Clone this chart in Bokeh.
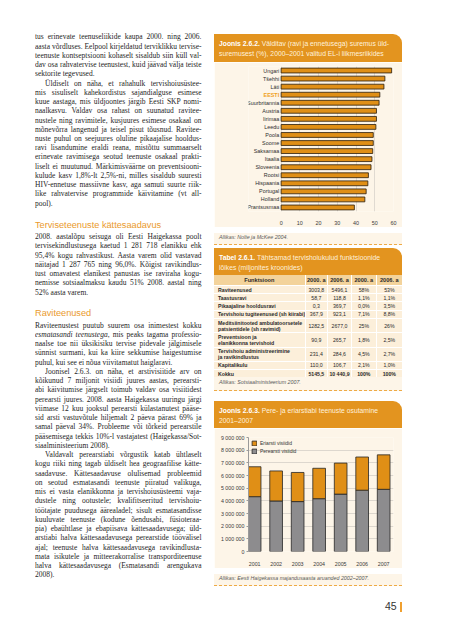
from bokeh.plotting import figure
from bokeh.models import (ColumnDataSource, Div, Spacer, FactorRange, Range1d,
                          FixedTicker, Legend, LegendItem)
from bokeh.layouts import row, column
from bokeh.core.properties import value
from bokeh.embed import file_html
from bokeh.resources import INLINE

# ---------------- data ----------------
countries = ["Ungari", "Tšehhi", "Läti", "EESTI", "Suurbritannia", "Austria", "Iirimaa", "Leedu",
             "Poola", "Soome", "Saksamaa", "Itaalia", "Sloveenia", "Rootsi", "Hispaania",
             "Portugal", "Holland", "Prantsusmaa"]
mortality = [59.0, 55.4, 54.9, 52.7, 52.3, 50.9, 50.9, 50.6, 49.2, 49.2, 48.9, 48.5, 48.0,
             46.6, 46.3, 45.4, 44.7, 39.1]
mortality_ticks = [0, 10, 20, 30, 40, 50, 60]

years = [2001, 2002, 2003, 2004, 2005, 2006, 2007]
pere_visits = [4330000, 3990000, 3940000, 4170000, 4530000, 4840000, 4910000]
eri_visits = [2360000, 2370000, 2300000, 2400000, 2450000, 2620000, 2720000]
visit_ticks = [0, 1000000, 2000000, 3000000, 4000000, 5000000, 6000000, 7000000, 8000000, 9000000]

table_header = ["Funktsioon", "2000. a", "2006. a", "2000. a", "2006. a"]
table_functions = ["Raviteenused", "Taastusravi", "Pikaajaline hooldusravi",
                   "Tervishoiu tugiteenused (sh kiirabi)",
                   "Meditsiinitooted ambulatoorsetele<br>patsientidele (sh ravimid)",
                   "Preventsioon ja<br>elanikkonna tervishoid",
                   "Tervishoiu administreerimine<br>ja ravikindlustus",
                   "Kapitalikulu", "Kokku"]
table_2000 = ["3003,8", "58,7", "0,3", "367,9", "1282,5", "90,9", "231,4", "110,0", "5145,5"]
table_2006 = ["5496,1", "118,8", "369,7", "923,1", "2677,0", "265,7", "284,6", "106,7", "10 440,9"]
table_share_2000 = ["58%", "1,1%", "0,0%", "7,1%", "25%", "1,8%", "4,5%", "2,1%", "100%"]
table_share_2006 = ["53%", "1,1%", "3,5%", "8,8%", "26%", "2,5%", "2,7%", "1,0%", "100%"]

para_a = [  # (text, indent, last)
    ("tus erinevate teenuseliikide kaupa 2000. ning 2006.", False, False),
    ("aasta võrdluses. Eelpool kirjeldatud terviklikku tervise-", False, False),
    ("teenuste kontseptsiooni kohaselt sisaldub siin küll val-", False, False),
    ("dav osa rahvatervise teenustest, kuid jäävad välja teiste", False, False),
    ("sektorite tegevused.", False, True),
    ("Üldiselt on näha, et rahahulk tervishoiusüstee-", True, False),
    ("mis sisuliselt kahekordistus sajandialguse esimese", False, False),
    ("kuue aastaga, mis üldjoontes järgib Eesti SKP nomi-", False, False),
    ("naalkasvu. Valdav osa rahast on suunatud ravitee-", False, False),
    ("nustele ning ravimitele, kusjuures esimese osakaal on", False, False),
    ("mõnevõrra langenud ja teisel pisut tõusnud. Ravitee-", False, False),
    ("nuste puhul on seejuures oluline pikaajalise hooldus-", False, False),
    ("ravi lisandumine eraldi reana, mistõttu summaarselt", False, False),
    ("erinevate ravimisega seotud teenuste osakaal prakti-", False, False),
    ("liselt ei muutunud. Märkimisväärne on preventsiooni-", False, False),
    ("kulude kasv 1,8%-lt 2,5%-ni, milles sisaldub suuresti", False, False),
    ("HIV-ennetuse massiivne kasv, aga samuti suurte riik-", False, False),
    ("like rahvatervise programmide käivitamine (vt all-", False, False),
    ("pool).", False, True),
]
heading_b = "Terviseteenuste kättesaadavus"
para_b = [
    ("2008. aastalõpu seisuga oli Eesti Haigekassa poolt", False, False),
    ("tervisekindlustusega kaetud 1 281 718 elanikku ehk", False, False),
    ("95,4% kogu rahvastikust. Aasta varem olid vastavad", False, False),
    ("näitajad 1 287 765 ning 96,0%. Kõigist ravikindlus-", False, False),
    ("tust omavatest elanikest panustas ise raviraha kogu-", False, False),
    ("nemisse sotsiaalmaksu kaudu 51% 2008. aastal ning", False, False),
    ("52% aasta varem.", False, True),
]
heading_c = "Raviteenused"
para_c = [
    ("Raviteenustest puutub suurem osa inimestest kokku", False, False),
    ("<i>esmatasandi teenustega</i>, mis peaks tagama professio-", False, False),
    ("naalse toe nii üksikisiku tervise pidevale jälgimisele", False, False),
    ("sünnist surmani, kui ka kiire sekkumise haigestumise", False, False),
    ("puhul, kui see ei nõua viivitamatut haiglaravi.", False, True),
    ("Joonisel 2.6.3. on näha, et arstivisiitide arv on", True, False),
    ("kõikunud 7 miljonit visiidi juures aastas, perearsti-", False, False),
    ("abi käivitumise järgselt toimub valdav osa visiitidest", False, False),
    ("perearsti juures. 2008. aasta Haigekassa uuringu järgi", False, False),
    ("viimase 12 kuu jooksul perearsti külastanutest pääse-", False, False),
    ("sid arsti vastuvõtule hiljemalt 2 päeva pärast 69% ja", False, False),
    ("samal päeval 34%. Probleeme või tõrkeid perearstile", False, False),
    ("pääsemisega tekkis 10%-l vastajatest (Haigekassa/Sot-", False, False),
    ("siaalministeerium 2008).", False, True),
    ("Valdavalt perearstiabi võrgustik katab ühtlaselt", True, False),
    ("kogu riiki ning tagab üldiselt hea geograafilise kätte-", False, False),
    ("saadavuse. Kättesaadavuse olulisemad probleemid", False, False),
    ("on seotud esmatasandi teenuste piiratud valikuga,", False, False),
    ("mis ei vasta elanikkonna ja tervishoiusüsteemi vaja-", False, False),
    ("dustele ning ootustele; kvalifitseeritud tervishoiu-", False, False),
    ("töötajate puudusega äärealadel; sisult esmatasandisse", False, False),
    ("kuuluvate teenuste (kodune õendusabi, füsioteraa-", False, False),
    ("pia) ebaühtlase ja ebapiisava kättesaadavusega; üld-", False, False),
    ("arstiabi halva kättesaadavusega perearstide töövälisel", False, False),
    ("ajal; teenuste halva kättesaadavusega ravikindlusta-", False, False),
    ("mata isikutele ja mitteerakorralise transporditeenuse", False, False),
    ("halva kättesaadavusega (Esmatasandi arengukava", False, False),
    ("2008).", False, True),
]

# ---------------- styles ----------------
BAND = "#e3941f"
BAR_OR = "#e08f16"
GRAY = "#8d8c8e"
CREAM = "#fdf5e8"
HEAD = "#f3d39b"
ROWBG = "#fcefda"
SANS = "'Liberation Sans', Arial, sans-serif"
SERIF = "'Liberation Serif', 'DejaVu Serif', serif"
RW = 188  # right column width

# ---------------- left text column ----------------
LH = 9.25
parts = []


def add_lines(lines, y0):
    for i, (t, ind, last) in enumerate(lines):
        yc = y0 + i * LH
        left = 35 + (10 if ind else 0)
        w = 166.5 - (10 if ind else 0)
        al = "left" if last else "justify"
        ws = "normal" if last else "-0.6px"
        parts.append(
            f'<div style="position:absolute;left:{left}px;top:{yc - 8 - 4.8:.1f}px;width:{w}px;'
            f'height:9.6px;line-height:9.6px;overflow:hidden;text-align:{al};text-align-last:{al};'
            f'word-spacing:{ws};white-space:normal">{t}</div>')


def add_heading(t, yc):
    parts.append(
        f'<div style="position:absolute;left:35px;top:{yc - 8 - 6:.1f}px;height:12px;line-height:12px;'
        f'font-family:{SANS};font-size:9.2px;color:#ea9a2d;white-space:nowrap">{t}</div>')


add_lines(para_a, 45)
add_heading(heading_b, 233.3)
add_lines(para_b, 245)
add_heading(heading_c, 321)
add_lines(para_c, 333.3)

left_div = Div(text=f'<div style="position:relative;width:214px;height:624px;font-family:{SERIF};'
                    f'font-size:7.5px;color:#262626">{"".join(parts)}</div>',
               width=214, height=624, margin=(0, 0, 0, 0))


def band(label, line1, line2, h):
    html = (f'<div style="box-sizing:border-box;width:{RW}px;height:{h}px;background:{BAND};'
            f'border-top-right-radius:9px;padding:5px 3px 0 5px;font-family:{SANS};font-size:6.8px;'
            f'line-height:9.5px;color:#fff1dc;white-space:nowrap;overflow:hidden">'
            f'<b style="color:#ffffff">{label}</b> {line1}<br>{line2}</div>')
    return Div(text=html, width=RW, height=h, margin=(0, 0, 0, 0))


def source_div(text, h):
    html = (f'<div style="box-sizing:border-box;width:{RW}px;height:{h}px;background:{CREAM};'
            f'border-bottom:1px dashed #eeaa45;padding:0 0 0 5px;font-family:{SANS};font-size:5.3px;'
            f'line-height:8px;font-style:italic;color:#5a5a5a;white-space:nowrap">{text}</div>')
    return Div(text=html, width=RW, height=h, margin=(0, 0, 0, 0))


# ---------------- figure 1 ----------------
# frame spans the whole panel width; the part left of 0 holds the country labels
p1 = figure(width=RW, height=165, x_range=Range1d(-17.43, 60), y_range=FactorRange(factors=countries[::-1]),
            output_backend="svg", toolbar_location=None,
            min_border_left=0, min_border_right=9, min_border_top=4, min_border_bottom=11,
            background_fill_color=CREAM, border_fill_color=CREAM, outline_line_color=None)
src1 = ColumnDataSource(dict(
    country=countries, value=mortality, zero=[0] * len(countries),
    color=["#f0a020" if c == "EESTI" else "#2e2e2e" for c in countries],
    style=["bold" if c == "EESTI" else "normal" for c in countries]))
p1.hbar(y="country", left=0, right="value", height=0.6, source=src1,
        fill_color=BAR_OR, line_color="#2a1d0c", line_width=0.8)
p1.text(x="zero", y="country", text="country", source=src1, x_offset=-2,
        text_align="right", text_baseline="middle", text_font_size=value("5.4px"),
        text_color="color", text_font_style="style", text_font=value("Liberation Sans"))
p1.yaxis.visible = False
p1.ygrid.grid_line_color = None
p1.xgrid.grid_line_color = "#d8d3ca"
p1.xgrid.grid_line_width = 0.8
p1.xaxis.ticker = FixedTicker(ticks=mortality_ticks)
p1.xaxis.axis_line_color = None
p1.xaxis.major_tick_line_color = None
p1.xaxis.minor_tick_line_color = None
p1.xaxis.major_label_text_font_size = "5.4px"
p1.xaxis.major_label_text_font = SANS
p1.xaxis.major_label_text_color = "#3a3a3a"
p1.xaxis.major_label_standoff = 3

# ---------------- table ----------------
col_w = [91.7, 22.3, 24, 24.7, 25.3]
row_h = [8, 8, 8.5, 8.5, 14, 14.5, 14, 8.5, 8]
rows_html = []
hdr = "".join(
    f'<div style="box-sizing:border-box;width:{w}px;height:10px;line-height:10px;text-align:center;'
    f'font-weight:bold;border-right:{1 if i < 4 else 0}px solid #fff">{t}</div>'
    for i, (w, t) in enumerate(zip(col_w, table_header)))
rows_html.append(f'<div style="display:flex;height:10px;background:{HEAD};font-size:5.6px">{hdr}</div>')
for i, name in enumerate(table_functions):
    h = row_h[i]
    bold_all = name == "Kokku"
    cells = [name, table_2000[i], table_2006[i], table_share_2000[i], table_share_2006[i]]
    cells_html = []
    for j, (w, t) in enumerate(zip(col_w, cells)):
        fw = "bold" if (j == 0 or bold_all) else "normal"
        pad = "0 0 0 4px" if j == 0 else "0"
        cells_html.append(
            f'<div style="box-sizing:border-box;width:{w}px;height:{h}px;display:flex;align-items:center;'
            f'justify-content:{"flex-start" if j == 0 else "center"};padding:{pad};overflow:hidden;'
            f'line-height:6px;font-weight:{fw};border-right:{1 if j < 4 else 0}px solid #fff;'
            f'border-top:1px solid #fff">{t}</div>')
    rows_html.append(f'<div style="display:flex;height:{h}px;background:{ROWBG}">{"".join(cells_html)}</div>')
table_div = Div(text=(
    f'<div style="box-sizing:border-box;position:relative;width:{RW}px;height:116px;background:{CREAM};'
    f'border-bottom:1px dashed #eeaa45;font-family:{SANS};font-size:5.2px;color:#2a2a2a;white-space:nowrap">'
    f'{"".join(rows_html)}'
    f'<div style="position:absolute;left:5px;top:104px;font-size:5.3px;font-style:italic;color:#5a5a5a">'
    f'Allikas: Sotsiaalministeerium 2007.</div></div>'),
    width=RW, height=116, margin=(0, 0, 0, 0))

# ---------------- figure 2 ----------------
p2 = figure(width=RW, height=140, x_range=Range1d(2000.715, 2007.457), y_range=Range1d(0, 9000000),
            output_backend="svg", toolbar_location=None,
            min_border_left=34, min_border_right=5, min_border_top=9, min_border_bottom=13,
            background_fill_color=CREAM, border_fill_color=CREAM, outline_line_color=None)
src2 = ColumnDataSource(dict(year=years, pere=pere_visits, eri=eri_visits))
rs = p2.vbar_stack(["pere", "eri"], x="year", width=0.59, source=src2,
                   fill_color=[GRAY, BAR_OR], line_color="#262626", line_width=0.8)
legend = Legend(items=[LegendItem(label="Eriarsti visiidid", renderers=[rs[1]]),
                       LegendItem(label="Perearsti visiidid", renderers=[rs[0]])],
                location="top_left", background_fill_alpha=0, border_line_alpha=0,
                label_text_font_size="5px", label_text_font=SANS, label_text_color="#333333",
                glyph_width=6, glyph_height=6, label_height=6, label_standoff=3,
                spacing=2, padding=1, margin=2)
p2.add_layout(legend)
p2.xgrid.grid_line_color = None
p2.ygrid.grid_line_color = "#d4cfc7"
p2.ygrid.grid_line_width = 0.8
p2.yaxis.ticker = FixedTicker(ticks=visit_ticks)
p2.yaxis.major_label_overrides = {t: f"{t:,}".replace(",", " ") for t in visit_ticks}
p2.yaxis.axis_line_color = "#9a9a9a"
p2.yaxis.major_tick_out = 2
p2.yaxis.major_tick_in = 0
p2.yaxis.major_tick_line_color = "#9a9a9a"
p2.yaxis.minor_tick_line_color = None
p2.yaxis.major_label_standoff = 2
p2.xaxis.ticker = FixedTicker(ticks=years)
p2.xaxis.axis_line_color = None
p2.xaxis.major_tick_line_color = None
p2.xaxis.minor_tick_line_color = None
p2.xaxis.major_label_standoff = 4
for ax in (p2.xaxis, p2.yaxis):
    ax.major_label_text_font_size = "5.3px"
    ax.major_label_text_font = SANS
    ax.major_label_text_color = "#3a3a3a"

page_div = Div(text=(
    f'<div style="position:relative;width:{RW}px;height:44px;font-family:{SANS}">'
    f'<div style="position:absolute;left:171px;top:20px;font-size:10.5px;line-height:12px;color:#333">45</div>'
    f'<div style="position:absolute;left:186px;top:22px;width:2px;height:10px;background:#f0a030"></div>'
    f'</div>'), width=RW, height=44, margin=(0, 0, 0, 0))

right = column(
    Spacer(width=RW, height=34, margin=(0, 0, 0, 0)),
    band("Joonis 2.6.2.", "Välditav (ravi ja ennetusega) suremus üld-",
         "suremusest (%), 2000–2001 valitud EL-i liikmesriikides", 28),
    p1,
    source_div("Allikas: Nolte ja McKee 2004.", 12),
    Spacer(width=RW, height=9, margin=(0, 0, 0, 0)),
    band("Tabel 2.6.1.", "Tähtsamad tervishoiukulud funktsioonide", "lõikes (miljonites kroonides)", 27),
    table_div,
    Spacer(width=RW, height=10, margin=(0, 0, 0, 0)),
    band("Joonis 2.6.3.", "Pere- ja eriarstiabi teenuste osutamine", "2001–2007", 27),
    p2,
    source_div("Allikas: Eesti Haigekassa majandusaasta aruanded 2002–2007.", 12),
    page_div,
    spacing=0)

layout = row(left_div, right, spacing=0)
open("out.html", "w").write(file_html(layout, INLINE))
